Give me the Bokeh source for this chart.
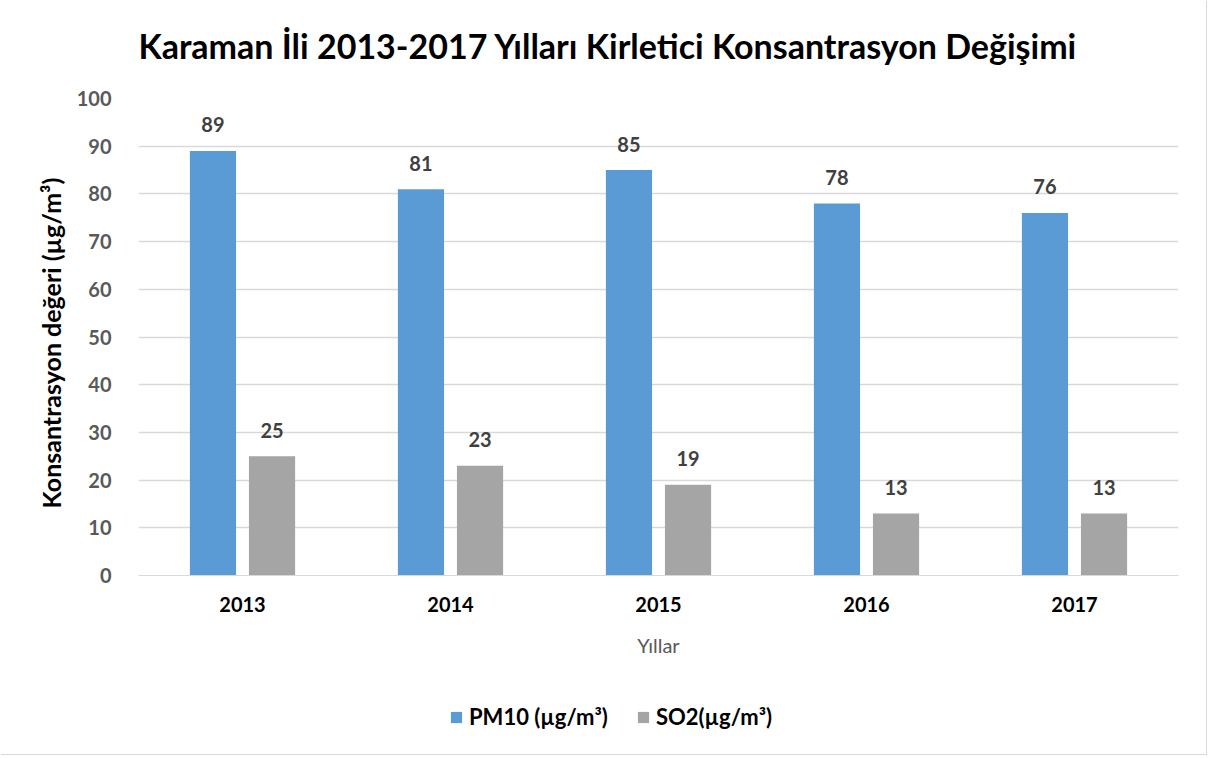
from bokeh.plotting import figure
from bokeh.layouts import column
from bokeh.models import (ColumnDataSource, Legend, LegendItem, Label, FactorRange,
                          Range1d, SingleIntervalTicker)
from bokeh.transform import dodge
from bokeh.core.properties import value
from bokeh.embed import file_html
from bokeh.resources import INLINE

# ---- data ----
years = ["2013", "2014", "2015", "2016", "2017"]
pm10 = [89, 81, 85, 78, 76]
so2 = [25, 23, 19, 13, 13]
series_names = ["PM10 (µg/m³)", "SO2(µg/m³)"]
chart_title = "Karaman İli 2013-2017 Yılları Kirletici Konsantrasyon Değişimi"
y_title = "Konsantrasyon  değeri  (µg/m³)"
x_title = "Yıllar"

FONT = "Lato"
BLUE = "#5B9BD5"
GRAY = "#A5A5A5"
W = 1206

src = ColumnDataSource(dict(
    year=years, pm10=pm10, so2=so2,
    pm10_lbl=[str(v) for v in pm10], so2_lbl=[str(v) for v in so2],
))

# ---- title strip ----
tf = figure(width=W, height=76, x_range=Range1d(0, 1), y_range=Range1d(0, 1),
            x_axis_type=None, y_axis_type=None, output_backend="svg",
            toolbar_location=None, min_border=0)
tf.outline_line_color = None
tf.grid.grid_line_color = None
tf.title = None
tf.add_layout(Label(x=469.5, y=31, x_units="screen", y_units="screen",
                    text=chart_title, text_align="center", text_baseline="middle",
                    text_font=FONT, text_font_size="34px", text_font_style="bold",
                    text_color="#000000"))

# ---- main chart ----
p = figure(
    x_range=FactorRange(*years, range_padding=0),
    y_range=Range1d(0, 100),
    width=W, height=614,
    output_backend="svg", toolbar_location=None,
    min_border_left=138, min_border_right=28,
    min_border_top=22, min_border_bottom=115,
)
p.title = None
p.outline_line_color = None
p.background_fill_color = "white"
p.border_fill_color = "white"

off = 0.142
bw = 0.222
r1 = p.vbar(x=dodge("year", -off, range=p.x_range), top="pm10", width=bw,
            source=src, fill_color=BLUE, line_color=None)
r2 = p.vbar(x=dodge("year", off, range=p.x_range), top="so2", width=bw,
            source=src, fill_color=GRAY, line_color=None)

for col, lbl, o in (("pm10", "pm10_lbl", -off), ("so2", "so2_lbl", off)):
    p.text(x=dodge("year", o, range=p.x_range), y=col, text=lbl, source=src,
           text_font=value(FONT), text_font_size="20px", text_font_style="bold",
           text_color="#404040", text_align="center", text_baseline="middle",
           y_offset=-26)

p.yaxis.ticker = SingleIntervalTicker(interval=10)
p.yaxis.axis_line_color = None
p.yaxis.major_tick_line_color = None
p.yaxis.minor_tick_line_color = None
p.yaxis.major_label_text_font = FONT
p.yaxis.major_label_text_font_size = "20px"
p.yaxis.major_label_text_font_style = "bold"
p.yaxis.major_label_text_color = "#595959"
p.yaxis.major_label_standoff = 21
p.yaxis.axis_label = y_title
p.yaxis.axis_label_text_font = FONT
p.yaxis.axis_label_text_font_size = "25px"
p.yaxis.axis_label_text_font_style = "bold"
p.yaxis.axis_label_text_color = "#000000"
p.yaxis.axis_label_standoff = 8

p.xaxis.axis_line_color = "#D9D9D9"
p.xaxis.major_tick_line_color = None
p.xaxis.minor_tick_line_color = None
p.xaxis.major_label_text_font = FONT
p.xaxis.major_label_text_font_size = "20px"
p.xaxis.major_label_text_font_style = "bold"
p.xaxis.major_label_text_color = "#000000"
p.xaxis.major_label_standoff = 15
p.xaxis.axis_label = x_title
p.xaxis.axis_label_text_font = FONT
p.xaxis.axis_label_text_font_size = "20px"
p.xaxis.axis_label_text_font_style = "normal"
p.xaxis.axis_label_text_color = "#595959"
p.xaxis.axis_label_standoff = 18

p.xgrid.grid_line_color = None
p.ygrid.grid_line_color = "#D9D9D9"
p.ygrid.grid_line_width = 1.5

# ---- legend strip ----
lg = figure(width=W, height=64, x_range=Range1d(0, 1), y_range=Range1d(0, 1),
            x_axis_type=None, y_axis_type=None, output_backend="svg",
            toolbar_location=None, min_border=0)
lg.title = None
lg.outline_line_color = None
lg.grid.grid_line_color = None
# legend swatch carriers: zero-size bars, nothing visible in the strip itself
s1 = lg.vbar(x=[0.5], top=[0], bottom=[0], width=0.0, fill_color=BLUE, line_color=None)
s2 = lg.vbar(x=[0.5], top=[0], bottom=[0], width=0.0, fill_color=GRAY, line_color=None)
legend = Legend(items=[LegendItem(label=series_names[0], renderers=[s1]),
                       LegendItem(label=series_names[1], renderers=[s2])],
                orientation="horizontal", location=(311, 24),
                label_text_font=FONT, label_text_font_size="22px",
                label_text_font_style="bold", label_text_color="#000000",
                glyph_width=14, glyph_height=14, label_standoff=6,
                spacing=28, border_line_color=None, background_fill_alpha=0,
                margin=0, padding=0)
lg.add_layout(legend, "center")

layout = column(tf, p, lg, spacing=0)
layout.styles = {"box-shadow": "1px 1px 0 0 #D9D9D9"}
open("out.html", "w").write(file_html(layout, INLINE))
